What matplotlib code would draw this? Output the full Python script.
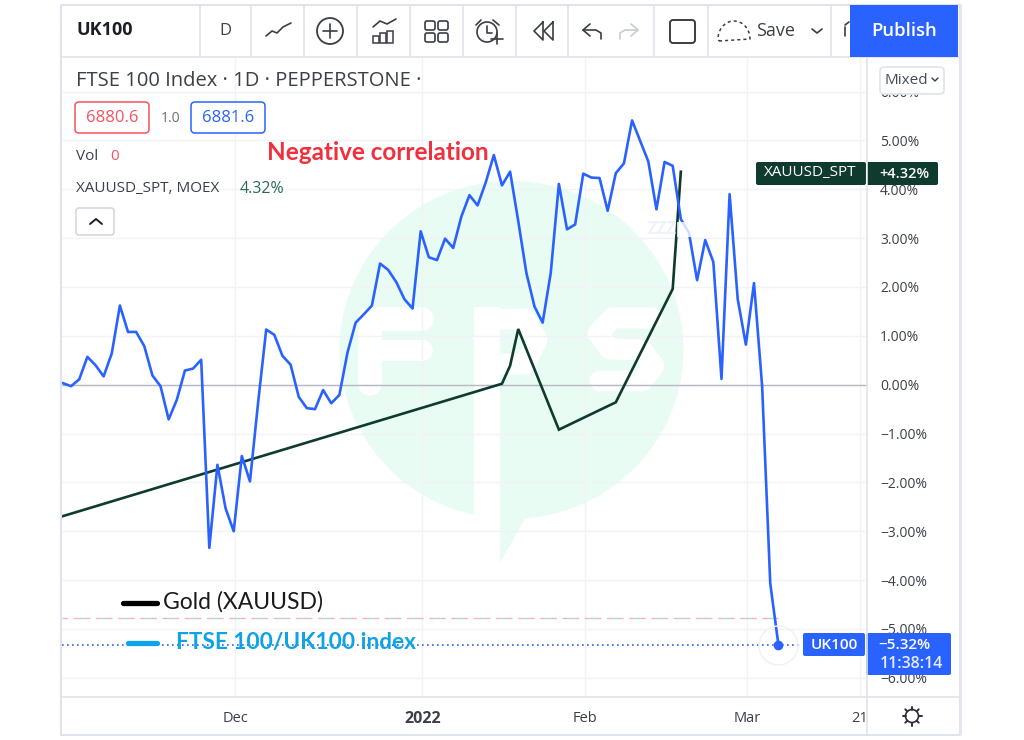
import matplotlib
matplotlib.use("Agg")
import numpy as np
import matplotlib.pyplot as plt
from matplotlib.patches import Circle, Ellipse, FancyBboxPatch, Polygon, Rectangle

plt.rcParams['font.family'] = ['Open Sans', 'DejaVu Sans']

# Data (% change, one value per trading day)
uk100_vals = [0.03, -0.03, 0.11, 0.57, 0.40, 0.17, 0.64, 1.62, 1.08, 1.08,
              0.79, 0.19, -0.03, -0.71, -0.31, 0.29, 0.33, 0.51, -3.34, -1.64,
              -2.53, -3.00, -1.46, -1.98, -0.37, 1.13, 1.02, 0.59, 0.41, -0.25,
              -0.48, -0.50, -0.11, -0.38, -0.21, 0.66, 1.27, 1.44, 1.62, 2.48,
              2.35, 2.10, 1.75, 1.56, 3.14, 2.61, 2.55, 2.99, 2.80, 3.44,
              3.88, 3.67, 4.14, 4.70, 4.08, 4.36, 3.35, 2.29, 1.60, 1.27,
              2.29, 4.11, 3.18, 3.28, 4.32, 4.24, 4.23, 3.56, 4.33, 4.53,
              5.41, 4.99, 4.57, 3.59, 4.56, 4.48, 3.39, 3.11, 2.14, 2.96,
              2.51, 0.12, 3.90, 1.75, 0.82, 2.08, -0.03, -4.07, -5.32]
gold_days = [0, 54, 55, 56, 61, 68, 75, 76]
gold_vals = [-2.69, 0.02, 0.39, 1.14, -0.92, -0.36, 1.96, 4.36]

pct_ticks = [6, 5, 4, 3, 2, 1, 0, -1, -2, -3, -4, -5, -6]
date_ticks = [21.2, 44.2, 64.2, 84.2, 98.0]
date_labels = ['Dec', '2022', 'Feb', 'Mar', '21']
last_gold = 4.32
last_uk = -5.32
order_line = -4.77

W, H = 1024, 740
BLUE = '#2962ff'
DARK = '#0f3a2e'
GRID = '#f1f3f8'
BORDER = '#e0e3eb'
TXT = '#3c3f48'
MINT = '#e9fcf3'

fig = plt.figure(figsize=(W / 100, H / 100), dpi=100, facecolor='white')

# background layer in pixels, holds the watermark
bg = fig.add_axes([0, 0, 1, 1], zorder=0)
bg.set_xlim(0, W)
bg.set_ylim(H, 0)
bg.axis('off')
bg.add_patch(Ellipse((511.5, 350), 344, 338, color=MINT, lw=0))
bg.add_patch(Polygon([[500, 500], [500, 563], [527, 515]], color=MINT, lw=0))
bg.add_patch(Rectangle((474, 307), 26, 260, color='white', lw=0))
# white letters of the logo
bg.plot([370, 370, 422], [384, 319, 319], color='white', lw=17, solid_capstyle='round', solid_joinstyle='round')
bg.plot([370, 422], [350, 350], color='white', lw=15, solid_capstyle='round')
bg.plot([487, 525, 537, 525, 500], [319, 319, 340, 364, 364], color='white', lw=15,
        solid_capstyle='round', solid_joinstyle='round')
bg.plot([652, 612, 598, 610, 642, 654, 642, 600], [318, 318, 334, 349, 350, 366, 381, 381],
        color='white', lw=15, solid_capstyle='round', solid_joinstyle='round')

# main chart
ax = fig.add_axes([62 / W, (H - 697) / H, 805 / W, 640 / H], zorder=1)
ax.patch.set_alpha(0)
ax.set_xlim(-0.12, 98.9)
ax.set_ylim((384.7 - 697) / 48.85, (384.7 - 57) / 48.85)
for s in ax.spines.values():
    s.set_visible(False)

ax.yaxis.tick_right()
ax.set_yticks(pct_ticks)
ax.set_yticklabels([f'{v:.2f}%'.replace('-', '\u2212') for v in pct_ticks], fontsize=10, color=TXT)
ax.set_xticks(date_ticks)
ax.set_xticklabels(date_labels, fontsize=10.5, color=TXT)
ax.get_xticklabels()[1].set_fontweight('bold')
ax.get_xticklabels()[1].set_fontsize(11.5)
ax.tick_params(length=0)
ax.tick_params(axis='y', pad=9.4)
ax.tick_params(axis='x', pad=10)
ax.grid(True, color=GRID, lw=1)
ax.set_axisbelow(True)

days = np.arange(len(uk100_vals))
ax.axhline(0, color='#b6b9c2', lw=1, zorder=1.5)
ax.plot([-0.12, days[-1]], [order_line, order_line], color='#f7b5b5', lw=1, ls=(0, (4, 4)))
ax.plot([-0.12, days[-1]], [order_line, order_line], color='#a6dccf', lw=1, ls=(4, (4, 12)))
ax.plot([-0.12, 90.5], [last_uk, last_uk], color=BLUE, lw=1.2, ls=(0, (1, 2)))
ax.plot(gold_days, gold_vals, color=DARK, lw=1.9, solid_joinstyle='miter')
ax.plot(days, uk100_vals, color=BLUE, lw=1.9, solid_joinstyle='round')
ax.plot(days[-1], uk100_vals[-1], 'o', ms=6, color=BLUE)
ax.plot(days[-1], uk100_vals[-1], 'o', ms=28, mfc='none', mec='#edf1fd', mew=1)

# everything TradingView draws round the plot, in pixels
ov = fig.add_axes([0, 0, 1, 1], zorder=2)
ov.patch.set_alpha(0)
ov.set_xlim(0, W)
ov.set_ylim(H, 0)
ov.axis('off')


def box(x0, y0, x1, y1, fc='white', ec='none', lw=1, r=3, z=3):
    ov.add_patch(FancyBboxPatch((x0 + r, y0 + r), x1 - x0 - 2 * r, y1 - y0 - 2 * r,
                                boxstyle=f'round,pad={r},rounding_size={r}',
                                fc=fc, ec=ec, lw=lw, zorder=z))


def label(x, y, s, size=10, color=TXT, ha='left', weight='normal', family=None, z=5):
    ov.text(x, y, s, fontsize=size, color=color, ha=ha, va='center', fontweight=weight,
            family=family if family else ['Open Sans', 'DejaVu Sans'], zorder=z)


def stroke(xs, ys, color='#3a3d45', lw=1.2, **kw):
    ov.plot(xs, ys, color=color, lw=lw, solid_capstyle='round', zorder=4, **kw)


# frame and toolbar
ov.add_patch(Rectangle((61, 5), 899, 730, fc='none', ec=BORDER, lw=1.5))
ov.add_patch(Rectangle((960, 5), 2, 730, fc='#e4e7ee', ec='none'))
stroke([61, 960], [57, 57], color=BORDER)
stroke([62, 960], [697, 697], color=BORDER)
stroke([867, 867], [57, 735], color=BORDER)
for sx in [200, 251, 304, 357, 410, 463, 516, 568, 654, 708, 831]:
    stroke([sx, sx], [6, 57], color=BORDER)
ov.add_patch(Rectangle((850, 5), 108, 52, fc=BLUE, ec='none', zorder=4))
label(904, 31, 'Publish', 13.3, 'white', ha='center', weight='semibold')
label(76, 30, 'UK100', 13, '#1c1e26', weight='bold')
label(225, 31, 'D', 12, TXT, ha='center')
label(756, 31, 'Save', 13, TXT)

# toolbar icons
stroke([266, 272, 277, 283, 291], [36, 31, 33, 27, 23])
ov.add_patch(Circle((330, 31), 13, fc='none', ec='#3a3d45', lw=1.3, zorder=4))
stroke([323, 337], [31, 31])
stroke([330, 330], [24, 38])
for bx, bt in [(373, 36), (380, 33), (387, 31)]:
    ov.add_patch(Rectangle((bx, bt), 6, 43 - bt, fc='none', ec='#3a3d45', lw=1.1, zorder=4))
stroke([373, 380, 387, 396], [27, 21, 24, 19])
for qx in [425, 438]:
    for qy in [21, 33]:
        box(qx, qy, qx + 10, qy + 9, fc='none', ec='#3a3d45', lw=1.2, r=2)
ov.add_patch(Circle((487, 32), 10, fc='none', ec='#3a3d45', lw=1.2, zorder=4))
stroke([487, 487, 492], [26, 33, 33])
stroke([476, 481], [25, 20])
stroke([493, 499], [20, 25])
stroke([497, 497], [33, 44])
stroke([491, 503], [39, 39])
stroke([543, 534, 543, 543], [22, 31, 40, 22])
stroke([553, 544, 553, 553], [22, 31, 40, 22])
stroke([590, 583, 590], [24, 30, 36])
stroke([583, 596, 601, 601], [30, 30, 33, 39])
stroke([631, 638, 631], [24, 30, 36], color='#c8cbd2')
stroke([638, 625, 620, 620], [30, 30, 33, 39], color='#c8cbd2')
box(670, 20, 695, 43, fc='none', ec='#3a3d45', lw=1.4, r=3)
cloud = np.radians(np.arange(0, 181, 6))
stroke(np.r_[719, 734 + 16 * np.cos(cloud), 719], np.r_[41, 39 - 18 * np.sin(cloud), 41],
       lw=1.1, ls=(0, (2, 2)))
stroke([812, 817, 822], [29, 33, 29])
stroke([845, 849], [25, 22])
stroke([845, 845], [27, 36])

# legend block top left
label(76, 81, 'FTSE 100 Index \u00b7 1D \u00b7 PEPPERSTONE \u00b7', 14.5, TXT)
box(75, 102, 149, 133, ec='#f7525f', lw=1.1, r=4)
label(112, 118, '6880.6', 12, '#f7525f', ha='center')
label(161, 118, '1.0', 10, '#6a6d78')
box(191, 102, 265, 133, ec=BLUE, lw=1.1, r=4)
label(228, 118, '6881.6', 12, BLUE, ha='center')
label(76, 156, 'Vol', 11, TXT)
label(110, 157, '0', 11, '#f7525f')
label(76, 189, 'XAUUSD_SPT, MOEX', 11, TXT)
label(240, 189, '4.32%', 11.5, '#2a6b57')
box(76, 208, 114, 235, ec='#d1d4dc', lw=1.1, r=3)
stroke([90, 96, 102], [224, 219, 224], color='#1c1e26', lw=1.4)

label(267, 152, 'Negative correlation', 17.5, '#f0303c', weight='bold', family='Lato')

# added legend
stroke([123, 157], [603, 603], color='black', lw=3.8)
label(163, 602, 'Gold (XAUUSD)', 16.5, '#1a1a1a', family='Lato')
stroke([128, 157], [643, 643], color='#0ea2e6', lw=3.8)
label(176, 643, 'FTSE 100/UK100 index', 16.3, '#0ea2e6', weight='bold', family='Lato')

# the sleep marker that sits on the lines
ov.add_patch(Rectangle((677, 222), 19, 15, fc='white', ec='none', alpha=0.8, zorder=3))
label(648, 229, 'ZZZ', 12, '#f0f2f9', weight='bold')

# price scale labels
box(880, 67, 944, 94, ec='#e0e3eb', lw=1.2, r=4)
label(885, 80, 'Mixed', 11, '#444a5a')
stroke([932, 935, 938], [78, 81, 78], lw=1)
box(756, 162, 866, 185, fc=DARK, r=2)
box(866, 162, 938, 185, fc=DARK, r=2)
stroke([866, 866], [162, 185], color='white', lw=0.8)
label(810, 173, 'XAUUSD_SPT', 11, 'white', ha='center')
label(904, 174, f'+{last_gold:.2f}%', 10.5, 'white', ha='center', weight='semibold')
box(803, 633, 865, 656, fc=BLUE, r=2)
box(866, 633, 951, 675, fc=BLUE, r=2)
label(834, 645, 'UK100', 11, 'white', ha='center', weight='semibold')
label(904, 645, f'\u2212{abs(last_uk):.2f}%', 11, 'white', ha='center', weight='semibold')
label(911, 664, '11:38:14', 11.5, '#e6ecff', ha='center', weight='semibold')

# settings gear
ov.add_patch(Circle((912, 716), 6.5, fc='none', ec='#2b2e36', lw=1.2, zorder=4))
for a in np.radians(np.arange(0, 360, 45)):
    stroke([912 + 6.5 * np.cos(a), 912 + 9.5 * np.cos(a)], [716 + 6.5 * np.sin(a), 716 + 9.5 * np.sin(a)],
           color='#2b2e36', lw=1.4)

fig.savefig('out.png', dpi=100)
